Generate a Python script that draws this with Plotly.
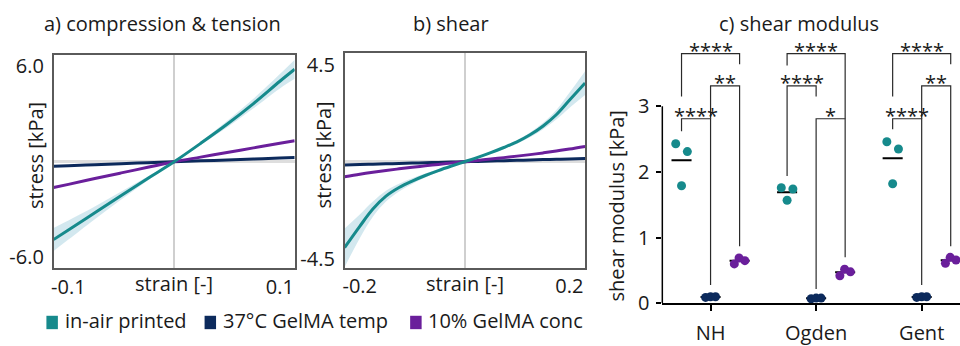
import plotly.graph_objects as go
import numpy as np

W, H = 960, 346


def px(x):
    return x / W


def py(y):
    return 1 - y / H


# ---------------- data ----------------
series_names = ["in-air printed", "37°C GelMA temp", "10% GelMA conc"]
colors = ["#168a8c", "#0c2a5c", "#6a1f9b"]
band_color = "rgba(196,224,233,0.75)"

# a) compression & tension
strain_a = [-0.114, -0.1, -0.075, -0.05, -0.025, 0.0, 0.025, 0.05, 0.075, 0.1, 0.114]
air_a = [-4.88, -4.28, -3.20, -2.12, -1.05, 0.0, 1.15, 2.35, 3.65, 5.05, 5.80]
air_a_hi = [-4.15, -3.68, -2.80, -1.87, -0.93, 0.03, 1.25, 2.55, 3.95, 5.50, 6.40]
air_a_lo = [-5.60, -4.88, -3.60, -2.37, -1.17, -0.03, 1.05, 2.15, 3.35, 4.60, 5.20]
temp_a = [-0.28, -0.245, -0.185, -0.12, -0.06, 0.0, 0.055, 0.11, 0.17, 0.23, 0.26]
conc_a = [-1.62, -1.42, -1.05, -0.70, -0.35, 0.0, 0.29, 0.58, 0.87, 1.16, 1.32]

# b) shear
strain_b = [-0.229, -0.2, -0.175, -0.15, -0.125, -0.1, -0.075, -0.05, -0.025, 0.0,
            0.025, 0.05, 0.075, 0.1, 0.125, 0.15, 0.175, 0.2, 0.23]
air_b = [-3.99, -3.00, -2.20, -1.60, -1.20, -0.90, -0.64, -0.41, -0.20, 0.0,
         0.20, 0.42, 0.66, 0.92, 1.25, 1.66, 2.18, 2.85, 3.65]
air_b_hi = [-3.10, -2.45, -1.85, -1.35, -1.02, -0.77, -0.55, -0.35, -0.17, 0.02,
            0.23, 0.47, 0.73, 1.00, 1.36, 1.81, 2.40, 3.20, 4.20]
air_b_lo = [-4.90, -3.55, -2.55, -1.85, -1.38, -1.03, -0.73, -0.47, -0.23, -0.02,
            0.17, 0.37, 0.59, 0.84, 1.14, 1.51, 1.96, 2.50, 3.10]
temp_b = [-0.15, -0.13, -0.115, -0.098, -0.082, -0.065, -0.049, -0.033, -0.016, 0.0,
          0.016, 0.033, 0.049, 0.065, 0.082, 0.098, 0.115, 0.13, 0.15]
conc_b = [-0.70, -0.58, -0.49, -0.41, -0.33, -0.26, -0.19, -0.125, -0.06, 0.0,
          0.06, 0.125, 0.19, 0.26, 0.33, 0.41, 0.50, 0.59, 0.71]

# c) shear modulus
categories = ["NH", "Ogden", "Gent"]
mod_air = [[2.43, 2.31, 1.79], [1.76, 1.74, 1.57], [2.46, 2.35, 1.82]]
mod_temp = [[0.09, 0.10, 0.10], [0.07, 0.08, 0.08], [0.09, 0.10, 0.10]]
mod_conc = [[0.60, 0.69, 0.65], [0.42, 0.52, 0.48], [0.61, 0.70, 0.66]]

# significance brackets: category, group from, group to, top, left end, right end, label
br_cat = [0, 0, 0, 1, 1, 1, 2, 2, 2]
br_from = [0, 1, 0, 0, 1, 0, 0, 1, 0]
br_to = [1, 2, 2, 1, 2, 2, 1, 2, 2]
br_top = [2.81, 3.31, 3.80, 3.31, 2.81, 3.80, 2.81, 3.31, 3.80]
br_left = [2.62, 2.81, 3.15, 1.94, 0.22, 3.62, 2.65, 2.81, 3.15]
br_right = [0.28, 0.87, 3.64, 3.15, 0.70, 2.81, 0.28, 0.87, 3.64]
br_label = ["****", "**", "****", "****", "*", "****", "****", "**", "****"]

# ---------------- style ----------------
FONT = "Open Sans"
FS = 20
TXT = "#1a1a1a"
group_off = [-0.275, 0.0, 0.275]
jitter = [[-0.055, 0.055, 0.0], [-0.047, 0.0, 0.047], [-0.05, -0.005, 0.05]]
mean_half = 0.095

fig = go.Figure()


def add_panel(xa, ya, strain, air, hi, lo, temp, conc):
    fig.add_trace(go.Scatter(x=strain, y=hi, mode="lines", line=dict(width=0, shape="spline"),
                             xaxis=xa, yaxis=ya, showlegend=False, hoverinfo="skip"))
    fig.add_trace(go.Scatter(x=strain, y=lo, mode="lines", line=dict(width=0, shape="spline"),
                             fill="tonexty", fillcolor=band_color,
                             xaxis=xa, yaxis=ya, showlegend=False, hoverinfo="skip"))
    for vals, c, n in [(temp, colors[1], series_names[1]),
                       (conc, colors[2], series_names[2]),
                       (air, colors[0], series_names[0])]:
        fig.add_trace(go.Scatter(x=strain, y=vals, mode="lines", name=n,
                                 line=dict(color=c, width=3, shape="spline"),
                                 xaxis=xa, yaxis=ya, showlegend=False))


add_panel("x", "y", strain_a, air_a, air_a_hi, air_a_lo, temp_a, conc_a)
add_panel("x2", "y2", strain_b, air_b, air_b_hi, air_b_lo, temp_b, conc_b)

# panel c: brackets
bx, by = [], []
for i in range(len(br_cat)):
    x1 = br_cat[i] + group_off[br_from[i]]
    x2 = br_cat[i] + group_off[br_to[i]]
    bx += [x1, x1, x2, x2, None]
    by += [br_left[i], br_top[i], br_top[i], br_right[i], None]
fig.add_trace(go.Scatter(x=bx, y=by, mode="lines", line=dict(color="#2a2a2a", width=1.2),
                         xaxis="x3", yaxis="y3", showlegend=False, hoverinfo="skip"))

# mean lines
mx, my = [], []
for g, data in enumerate([mod_air, mod_temp, mod_conc]):
    for c in range(len(categories)):
        m = float(np.mean(data[c]))
        xc = c + group_off[g]
        mx += [xc - mean_half, xc + mean_half, None]
        my += [m, m, None]
fig.add_trace(go.Scatter(x=mx, y=my, mode="lines", line=dict(color="black", width=2),
                         xaxis="x3", yaxis="y3", showlegend=False, hoverinfo="skip"))

# dots
for g, data in enumerate([mod_air, mod_temp, mod_conc]):
    xs, ys = [], []
    for c in range(len(categories)):
        for k in range(3):
            xs.append(c + group_off[g] + jitter[g][k])
            ys.append(data[c][k])
    fig.add_trace(go.Scatter(x=xs, y=ys, mode="markers", name=series_names[g],
                             marker=dict(color=colors[g], size=9),
                             cliponaxis=False, xaxis="x3", yaxis="y3", showlegend=False))

annotations = []
for i in range(len(br_cat)):
    x1 = br_cat[i] + group_off[br_from[i]]
    x2 = br_cat[i] + group_off[br_to[i]]
    annotations.append(dict(x=(x1 + x2) / 2, y=br_top[i] + 0.055, xref="x3", yref="y3",
                            text=br_label[i], showarrow=False, yanchor="middle", borderpad=0,
                            font=dict(size=FS, color=TXT, family=FONT)))

# titles
for txt, x in [("a) compression &amp; tension", 161), ("b) shear", 450), ("c) shear modulus", 799)]:
    annotations.append(dict(x=px(x), y=py(22), xref="paper", yref="paper", text=txt,
                            showarrow=False, xanchor="center", yanchor="middle", borderpad=0,
                            font=dict(size=FS, color=TXT, family=FONT)))
# axis titles
for txt, x, y in [("stress [kPa]", 33, 160), ("stress [kPa]", 322, 160),
                  ("shear modulus [kPa]", 616, 213)]:
    annotations.append(dict(x=px(x), y=py(y), xref="paper", yref="paper", text=txt,
                            textangle=-90, showarrow=False, xanchor="center", yanchor="middle",
                            font=dict(size=FS, color=TXT, family=FONT)))
for xr in ["x", "x2"]:
    annotations.append(dict(x=0, y=py(294), xref=xr, yref="paper", text="strain [-]",
                            showarrow=False, xanchor="center", yanchor="middle",
                            font=dict(size=FS, color=TXT, family=FONT)))

# custom legend
shapes = []
leg_sq = [44.5, 203, 409]
leg_tx = [61, 219, 425]
for i in range(3):
    shapes.append(dict(type="rect", xref="paper", yref="paper",
                       x0=px(leg_sq[i]), x1=px(leg_sq[i] + 11.5),
                       y0=py(342), y1=py(328), line=dict(width=0), fillcolor=colors[i]))
    annotations.append(dict(x=px(leg_tx[i]), y=py(332.5), xref="paper", yref="paper",
                            text=series_names[i], showarrow=False, xanchor="left",
                            yanchor="middle", font=dict(size=FS, color=TXT, family=FONT)))

# y axis line for panel c (only 0..3)
shapes.append(dict(type="line", xref="x3 domain", yref="y3", x0=0, x1=0, y0=0, y1=3,
                   line=dict(color="black", width=1.5)))

frame = dict(showline=True, mirror=True, linecolor="#5a5a5a", linewidth=1.5,
             showgrid=False, ticks="", tickfont=dict(size=FS, color=TXT, family=FONT))

fig.update_layout(
    width=W, height=H, margin=dict(l=0, r=0, t=0, b=0),
    paper_bgcolor="white", plot_bgcolor="white", showlegend=False,
    font=dict(family=FONT, color=TXT),
    xaxis=dict(domain=[px(51.7), px(293.3)], range=[-0.114, 0.114], anchor="y",
               tickvals=[-0.1, 0.1], ticktext=["-0.1", "0.1"],
               zeroline=True, zerolinecolor="#cfcfcf", zerolinewidth=1.5, **frame),
    yaxis=dict(domain=[py(278.3), py(55)], range=[-6.68, 6.72], anchor="x",
               tickvals=[-6, 6], ticktext=["-6.0", "6.0"], ticklabelstandoff=4,
               zeroline=True, zerolinecolor="#dedede", zerolinewidth=3, **frame),
    xaxis2=dict(domain=[px(343.3), px(584.3)], range=[-0.229, 0.23], anchor="y2",
                tickvals=[-0.2, 0.2], ticktext=["-0.2", "0.2"],
                zeroline=True, zerolinecolor="#cfcfcf", zerolinewidth=1.5, **frame),
    yaxis2=dict(domain=[py(277.7), py(53.3)], range=[-4.92, 5.05], anchor="x2",
                tickvals=[-4.5, 4.5], ticktext=["-4.5", "4.5"], ticklabelstandoff=4,
                zeroline=True, zerolinecolor="#dedede", zerolinewidth=3, **frame),
    xaxis3=dict(domain=[px(661.7), 1.0], range=[-0.457, 2.363], anchor="y3",
                showline=True, linecolor="black", linewidth=1.5, showgrid=False, zeroline=False,
                ticks="outside", ticklen=6, tickwidth=1.5, tickcolor="black",
                tickvals=[0, 1, 2], ticktext=categories, ticklabelstandoff=5,
                tickfont=dict(size=FS, color=TXT, family=FONT)),
    yaxis3=dict(domain=[py(315), py(30)], range=[0, 4.15], anchor="x3",
                showline=False, showgrid=False, zeroline=False,
                ticks="outside", ticklen=5, tickwidth=1.5, tickcolor="black",
                tickvals=[0, 1, 2, 3], ticklabelstandoff=3,
                tickfont=dict(size=FS, color=TXT, family=FONT)),
    annotations=annotations, shapes=shapes,
)

fig.write_html("out.html", config={"displayModeBar": False, "responsive": False},
               post_script="document.documentElement.style.margin='0px';"
                           "document.body.style.margin='0px';")
